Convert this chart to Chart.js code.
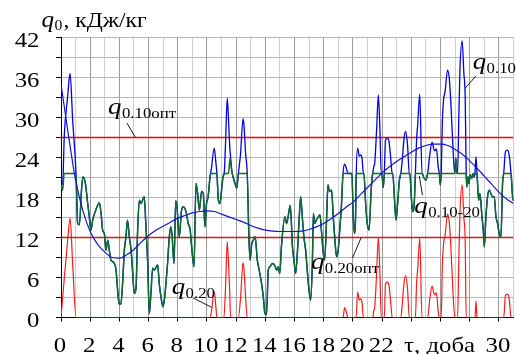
<!DOCTYPE html>
<html lang="uk">
<head>
<meta charset="UTF-8">
<title>q0</title>
<script src="https://cdn.jsdelivr.net/npm/chart.js"></script>
<style>
  body { margin: 0; background: #fff; }
</style>
</head>
<body>
<canvas id="grafik" width="516" height="354"></canvas>
<script>
// [доба, кДж/кг]
const q010 = [
  [0,19.9],[0.11,20.0],[0.23,27.5],[0.45,33.0],[0.62,36.6],[0.8,29.6],[1.03,21.6],
  [1.14,14.1],[1.26,13.9],[1.4,19.0],[1.5,21.1],[1.67,20.1],[1.83,17.1],[1.94,15.1],[2.05,13.1],[2.17,14.6],[2.35,15.9],[2.63,17.2],[2.75,15.5],[2.85,13.1],[2.97,12.6],[3.08,10.1],[3.2,11.6],[3.31,10.1],[3.42,8.6],[3.6,8.3],[3.77,7.1],[3.88,4.1],[3.98,2.1],[4.1,2.0],[4.22,5.1],[4.34,10.1],[4.45,12.1],[4.55,14.6],[4.68,12.1],[4.8,10.1],[4.9,7.1],[5.02,3.6],[5.14,4.4],[5.25,13.1],[5.37,17.6],[5.48,17.1],[5.7,18.1],[5.82,13.6],[5.94,8.1],[6.05,0.6],[6.16,3.6],[6.28,7.4],[6.39,7.1],[6.62,7.9],[6.73,5.1],[6.85,3.1],[6.98,1.6],[7.08,2.6],[7.19,5.1],[7.3,8.1],[7.42,12.1],[7.53,13.6],[7.62,12.0],[7.74,8.1],[7.86,17.5],[7.95,16.5],[8.1,12.1],[8.26,16.1],[8.38,16.6],[8.56,15.9],[8.72,14.1],[8.85,13.1],[8.95,10.6],[9.11,7.6],[9.25,20.1],[9.36,18.6],[9.48,16.1],[9.63,18.9],[9.75,18.6],[9.86,13.6],[9.97,17.1],[10.08,18.1],
  [10.21,21.1],[10.3,22.3],[10.5,25.4],[10.6,23.5],[10.68,21.6],[10.78,17.6],[10.89,17.1],[11.0,19.1],
  [11.1,21.1],[11.18,21.6],[11.27,26.0],[11.39,32.9],[11.47,30.0],[11.55,26.0],[11.62,24.0],[11.7,22.0],[11.8,21.0],[11.92,20.1],[12.04,19.4],
  [12.15,21.6],[12.3,24.5],[12.47,29.8],[12.53,29.0],[12.65,24.5],[12.76,21.6],
  [12.86,13.1],[12.95,8.6],[13.07,11.1],[13.18,11.6],[13.3,12.1],[13.45,8.6],[13.58,7.1],[13.74,5.1],[13.86,3.1],[13.97,0.6],[14.08,0.4],[14.2,7.1],[14.3,7.6],[14.5,8.1],[14.65,7.8],[14.77,7.1],[14.88,7.6],[14.99,6.6],[15.1,10.6],[15.34,15.1],[15.45,14.1],[15.56,15.1],[15.7,16.8],[15.78,14.5],[15.84,11.1],[15.96,8.6],[16.07,6.6],[16.19,9.6],[16.3,14.1],[16.42,18.1],[16.53,15.1],[16.64,12.1],[16.76,10.1],[16.87,7.1],[16.99,4.1],[17.1,2.6],[17.22,8.1],[17.29,15.6],[17.38,14.1],[17.49,14.6],[17.63,15.1],[17.74,15.4],[17.84,13.1],[17.97,9.6],[18.06,8.6],[18.2,15.1],[18.29,19.9],[18.4,18.9],[18.54,19.1],[18.65,15.1],[18.75,12.1],[18.88,9.1],[18.99,10.1],[19.11,13.6],[19.22,17.1],
  [19.32,21.6],[19.43,23.0],[19.55,22.4],[19.66,21.6],[19.93,21.6],[20.02,15.1],[20.11,12.6],[20.18,15.0],
  [20.22,21.0],[20.32,25.4],[20.44,24.2],[20.53,24.4],[20.62,23.9],[20.72,21.6],[20.75,21.6],[20.87,17.1],[20.98,14.1],[21.1,13.1],[21.25,19.1],[21.32,21.1],
  [21.36,21.6],[21.42,22.6],[21.49,23.1],[21.62,28.1],[21.74,33.4],[21.85,28.1],[21.94,21.6],[21.98,21.6],[22.08,19.5],
  [22.15,21.6],[22.23,26.6],[22.35,26.9],[22.47,26.4],[22.58,24.1],[22.69,21.6],[22.73,21.6],[22.84,18.0],[22.95,14.6],[23.06,17.1],[23.18,20.5],
  [23.28,21.6],[23.38,23.6],[23.49,26.6],[23.6,27.9],[23.74,25.9],[23.86,21.6],[23.9,21.6],[24.0,18.1],[24.09,15.9],[24.2,17.1],
  [24.28,21.6],[24.36,26.7],[24.43,28.7],[24.58,33.5],[24.73,21.6],[24.75,21.6],[24.85,21.0],[25.0,20.6],
  [25.12,21.6],[25.25,24.1],[25.42,26.3],[25.55,25.2],[25.62,25.0],[25.72,25.3],[25.84,22.6],[25.92,21.6],[25.98,19.9],
  [26.05,21.6],[26.12,29.0],[26.2,32.5],[26.32,34.0],[26.48,37.1],[26.6,35.9],[26.71,32.1],[26.87,24.7],[26.98,21.6],[27.05,23.9],[27.12,21.6],
  [27.17,21.6],[27.25,29.6],[27.33,37.1],[27.48,41.5],[27.6,36.6],[27.69,33.1],[27.76,21.6],
  [27.8,19.6],[27.88,21.1],[27.95,20.1],[28.04,21.4],[28.15,20.9],[28.24,21.6],[28.3,21.1],
  [28.36,21.6],[28.43,24.1],[28.5,21.6],
  [28.61,17.6],[28.7,18.6],[28.84,15.1],[28.93,13.1],[29.0,10.6],[29.11,15.1],[29.22,18.1],[29.34,19.1],[29.45,18.6],[29.57,18.1],[29.68,18.1],[29.8,15.1],[29.91,14.1],[30.02,12.6],[30.14,12.1],[30.25,20.1],
  [30.33,21.6],[30.45,24.9],[30.6,25.1],[30.72,24.1],[30.83,21.6],[30.94,18.1],[31.0,17.5]
];

const q1020 = [
  [0,19.9],[0.11,19.1],[0.22,21.6],[1.03,21.6],[1.14,14.1],[1.26,13.9],[1.4,19.0],[1.5,21.1],[1.67,20.1],[1.83,17.1],[1.94,15.1],[2.05,13.1],[2.17,14.6],[2.35,15.9],[2.63,17.2],[2.75,15.5],[2.85,13.1],[2.97,12.6],[3.08,10.1],[3.2,11.6],[3.31,10.1],[3.42,8.6],[3.6,8.3],[3.77,7.1],[3.88,4.1],[3.98,2.1],[4.1,2.0],[4.22,5.1],[4.34,10.1],[4.45,12.1],[4.55,14.6],[4.68,12.1],[4.8,10.1],[4.9,7.1],[5.02,3.6],[5.14,4.4],[5.25,13.1],[5.37,17.6],[5.48,17.1],[5.7,18.1],[5.82,13.6],[5.94,8.1],[6.05,0.6],[6.16,3.6],[6.28,7.4],[6.39,7.1],[6.62,7.9],[6.73,5.1],[6.85,3.1],[6.98,1.6],[7.08,2.6],[7.19,5.1],[7.3,8.1],[7.42,12.1],[7.53,13.6],[7.62,12.0],[7.74,8.1],[7.86,17.5],[7.95,16.5],[8.1,12.1],[8.26,16.1],[8.38,16.6],[8.56,15.9],[8.72,14.1],[8.85,13.1],[8.95,10.6],[9.11,7.6],[9.25,20.1],[9.36,18.6],[9.48,16.1],[9.63,18.9],[9.75,18.6],[9.86,13.6],[9.97,17.1],[10.08,18.1],[10.21,21.1],[10.3,21.6],[10.68,21.6],[10.78,17.6],[10.89,17.1],[11.0,19.1],[11.1,21.1],[11.18,21.6],[11.48,21.6],[11.58,23.9],[11.7,22.0],[11.8,21.0],[11.92,20.1],[12.04,19.4],[12.15,21.6],[12.76,21.6],[12.86,13.1],[12.95,8.6],[13.07,11.1],[13.18,11.6],[13.3,12.1],[13.45,8.6],[13.58,7.1],[13.74,5.1],[13.86,3.1],[13.97,0.6],[14.08,0.4],[14.2,7.1],[14.3,7.6],[14.5,8.1],[14.65,7.8],[14.77,7.1],[14.88,7.6],[14.99,6.6],[15.1,10.6],[15.34,15.1],[15.45,14.1],[15.56,15.1],[15.7,16.8],[15.78,14.5],[15.84,11.1],[15.96,8.6],[16.07,6.6],[16.19,9.6],[16.3,14.1],[16.42,18.1],[16.53,15.1],[16.64,12.1],[16.76,10.1],[16.87,7.1],[16.99,4.1],[17.1,2.6],[17.22,8.1],[17.29,15.6],[17.38,14.1],[17.49,14.6],[17.63,15.1],[17.74,15.4],[17.84,13.1],[17.97,9.6],[18.06,8.6],[18.2,15.1],[18.29,19.9],[18.4,18.9],[18.54,19.1],[18.65,15.1],[18.75,12.1],[18.88,9.1],[18.99,10.1],[19.11,13.6],[19.22,17.1],[19.32,21.6],[19.93,21.6],[20.02,15.1],[20.11,12.6],[20.18,15.0],[20.22,21.0],[20.28,21.6],[20.75,21.6],[20.87,17.1],[20.98,14.1],[21.1,13.1],[21.25,19.1],[21.32,21.1],[21.36,21.6],[21.98,21.6],[22.08,19.5],[22.15,21.6],[22.73,21.6],[22.84,18.0],[22.95,14.6],[23.06,17.1],[23.18,20.5],[23.28,21.6],[23.9,21.6],[24.0,18.1],[24.09,15.9],[24.2,17.1],[24.28,21.6],[24.75,21.6],[24.85,21.0],[25.0,20.6],[25.12,21.6],[25.92,21.6],[25.98,19.9],[26.05,21.6],[26.98,21.6],[27.05,23.9],[27.12,21.6],[27.76,21.6],[27.8,19.6],[27.88,21.1],[27.95,20.1],[28.04,21.4],[28.15,20.9],[28.24,21.6],[28.3,21.1],[28.36,21.6],[28.5,21.6],[28.61,17.6],[28.7,18.6],[28.84,15.1],[28.93,13.1],[29.0,10.6],[29.11,15.1],[29.22,18.1],[29.34,19.1],[29.45,18.6],[29.57,18.1],[29.68,18.1],[29.8,15.1],[29.91,14.1],[30.02,12.6],[30.14,12.1],[30.25,20.1],[30.33,21.6],[30.83,21.6],[30.94,18.1],[31.0,17.5]
];

const q020 = [
  [0,0],[0.23,6.0],[0.45,11.4],[0.62,14.9],[0.8,8.0],[1.03,0],
  [10.21,0],[10.3,0.8],[10.5,3.9],[10.6,1.9],[10.68,0],
  [11.16,0],[11.27,4.4],[11.39,11.4],[11.47,8.4],[11.55,4.4],[11.62,0],
  [12.15,0],[12.3,2.9],[12.47,8.2],[12.53,7.4],[12.65,2.9],[12.76,0],
  [19.32,0],[19.43,1.5],[19.55,0.8],[19.66,0],
  [20.22,0],[20.32,3.8],[20.44,2.6],[20.53,2.8],[20.62,2.3],[20.72,0],
  [21.36,0],[21.42,1.0],[21.49,1.5],[21.62,6.5],[21.74,12.0],[21.85,6.5],[21.94,0],
  [22.15,0],[22.23,5.0],[22.35,5.3],[22.47,4.8],[22.58,2.5],[22.69,0],
  [23.28,0],[23.38,2.0],[23.49,5.0],[23.6,6.3],[23.74,4.3],[23.86,0],
  [24.28,0],[24.36,5.1],[24.43,7.1],[24.58,11.9],[24.73,0],
  [25.12,0],[25.25,2.5],[25.42,4.7],[25.55,3.6],[25.62,3.4],[25.72,3.7],[25.84,1.0],[25.92,0],
  [26.05,0],[26.12,7.4],[26.2,10.9],[26.32,12.4],[26.48,15.5],[26.6,14.3],[26.71,10.5],[26.87,3.1],[26.98,0],
  [27.17,0],[27.25,8.0],[27.33,15.5],[27.48,19.9],[27.6,15.0],[27.69,11.5],[27.76,0],
  [28.36,0],[28.43,2.5],[28.5,0],
  [30.33,0],[30.45,3.3],[30.6,3.5],[30.72,2.5],[30.83,0],[31,0]
];

// згладжена крива q0.10
const trend = [
  [0,35.0],[0.5,27.5],[1,20.6],[1.5,16.0],[2,12.9],[2.5,11.0],[3,9.8],[3.5,9.0],[4,8.9],[4.5,9.4],[5,10.2],[5.5,11.3],[6,12.3],[6.5,13.1],[7,13.7],[7.5,14.3],[8,14.9],[8.5,15.3],[9,15.7],[9.5,15.9],[10,16.0],[10.5,15.9],[11,15.5],[11.5,15.1],[12,14.7],[12.5,14.3],[13,13.8],[13.5,13.4],[14,13.1],[14.5,12.95],[15,12.9],[15.5,12.9],[16,12.9],[16.5,12.95],[17,13.2],[17.5,13.6],[18,14.1],[18.5,14.8],[19,15.6],[19.5,16.5],[20,17.3],[20.5,18.4],[21,19.5],[21.5,20.6],[22,21.7],[22.5,22.6],[23,23.4],[23.5,24.1],[24,24.8],[24.5,25.4],[25,25.8],[25.5,26.0],[26,26.0],[26.5,25.8],[27,25.2],[27.5,24.5],[28,23.5],[28.5,22.4],[29,21.2],[29.5,20.0],[30,18.8],[30.5,17.8],[31,17.1]
];

const q010opt = 27;
const q020opt = 12;

const mitkyX = ['0','2','4','6','8','10','12','14','16','18','20','22','','τ, доба','','30'];
const mitkyY = ['0','6','12','18','24','30','36','42'];

function tochky(arr) {
  return arr.map(p => ({ x: p[0], y: p[1] }));
}

const shryft = '"Liberation Serif", "Times New Roman", serif';

// підписи кривих: [індекс, x, y, виноска x1, y1, x2, y2]
const napysy = [
  ['0.10опт', 3.22, 30.6, 4.52, 29.17, 5.10, 27.0],
  ['0.10', 28.2, 37.3, 28.42, 36.22, 27.69, 34.38],
  ['0.10-20', 24.2, 15.7, 24.55, 21.22, 24.76, 18.37],
  ['0.20опт', 17.12, 7.23, 20.55, 11.92, 19.97, 8.92],
  ['0.20', 7.58, 3.52, 9.06, 2.92, 10.32, 1.53]
];

// текст трохи розтягнутий по горизонталі, як на оригіналі
function tekst(ctx, s, x, y, font, align, rozt) {
  ctx.save();
  ctx.font = font;
  ctx.textAlign = align;
  ctx.translate(x, y);
  ctx.scale(rozt, 1);
  ctx.fillText(s, 0, 0);
  const w = ctx.measureText(s).width * rozt;
  ctx.restore();
  return w;
}

function malujQ(ctx, x, y, sub, subSize, dy, rozt) {
  const w = tekst(ctx, 'q', x, y, 'italic 24px ' + shryft, 'left', rozt);
  const w2 = tekst(ctx, sub, x + w + 0.5, y + dy, subSize + 'px ' + shryft, 'left', rozt);
  return w + 0.5 + w2;
}

const pidpysy = {
  id: 'pidpysy',
  afterDraw(chart) {
    const ctx = chart.ctx;
    const sx = chart.scales.x, sy = chart.scales.y;
    const area = chart.chartArea;
    ctx.save();
    ctx.fillStyle = '#000';
    ctx.strokeStyle = '#000';
    ctx.lineWidth = 0.9;
    ctx.textBaseline = 'alphabetic';

    // мітки осей
    mitkyX.forEach((s, i) => {
      if (s) tekst(ctx, s, sx.getPixelForValue(i * 2) - 1, area.bottom + 34, '21px ' + shryft, 'center', 1.18);
    });
    mitkyY.forEach((s, i) => {
      tekst(ctx, s, area.left - 21.5, sy.getPixelForValue(i * 6) + 9.2, '21px ' + shryft, 'right', 1.18);
    });

    // назва осі
    const ax = area.left - 19.5;
    const ay = area.top - 10.5;
    const w = malujQ(ctx, ax, ay, '0', 15, 3, 1.05);
    tekst(ctx, ', кДж/кг', ax + w + 1, ay, '22px ' + shryft, 'left', 1.07);

    napysy.forEach(n => {
      malujQ(ctx, sx.getPixelForValue(n[1]), sy.getPixelForValue(n[2]), n[0], 15, 4, 1.12);
      ctx.beginPath();
      ctx.moveTo(sx.getPixelForValue(n[3]), sy.getPixelForValue(n[4]));
      ctx.lineTo(sx.getPixelForValue(n[5]), sy.getPixelForValue(n[6]));
      ctx.stroke();
    });
    ctx.restore();
  }
};

const ctx = document.getElementById('grafik').getContext('2d');

new Chart(ctx, {
  type: 'line',
  data: {
    datasets: [
      {
        data: tochky(trend),
        borderColor: '#1414d2',
        borderWidth: 1.2,
        pointRadius: 0,
        cubicInterpolationMode: 'monotone',
        order: 1
      },
      {
        data: tochky(q020),
        borderColor: '#ff1a1a',
        borderWidth: 1.2,
        pointRadius: 0,
        cubicInterpolationMode: 'monotone',
        order: 2
      },
      {
        data: tochky(q1020),
        borderColor: '#0d6a30',
        borderWidth: 1.5,
        pointRadius: 0,
        cubicInterpolationMode: 'monotone',
        order: 3
      },
      {
        data: tochky(q010),
        borderColor: '#0000e0',
        borderWidth: 1.3,
        pointRadius: 0,
        cubicInterpolationMode: 'monotone',
        order: 4
      },
      {
        data: [{ x: 0, y: q010opt }, { x: 31, y: q010opt }],
        borderColor: '#ff0000',
        borderWidth: 1.5,
        pointRadius: 0,
        order: 5
      },
      {
        data: [{ x: 0, y: q020opt }, { x: 31, y: q020opt }],
        borderColor: '#cc2000',
        borderWidth: 1.5,
        pointRadius: 0,
        order: 6
      }
    ]
  },
  options: {
    responsive: false,
    animation: false,
    devicePixelRatio: 1,
    layout: { padding: { top: 37.5, right: 2.5, left: 0, bottom: 0 } },
    plugins: {
      legend: { display: false },
      tooltip: { enabled: false }
    },
    scales: {
      x: {
        type: 'linear',
        min: 0,
        max: 31,
        ticks: { display: false, stepSize: 1, autoSkip: false, maxRotation: 0 },
        grid: {
          color: c => (c.tick && c.tick.value % 2 === 0 ? '#9a9a9a' : '#d0d0d0'),
          tickColor: c => (c.tick && c.tick.value % 2 === 0 ? '#000' : 'rgba(0,0,0,0)'),
          tickLength: 4
        },
        border: { color: '#000', width: 1 },
        afterFit: s => { s.height = 36.5; }
      },
      y: {
        min: 0,
        max: 42,
        ticks: { display: false, stepSize: 3 },
        grid: {
          // під лініями q опт сітки не видно
          color: c => (c.tick && (c.tick.value === q010opt || c.tick.value === q020opt) ? 'rgba(0,0,0,0)' : '#b4b4b4'),
          tickColor: '#000',
          tickLength: 5
        },
        border: { color: '#000', width: 1 },
        afterFit: s => { s.width = 61; }
      }
    }
  },
  plugins: [pidpysy]
});
</script>
</body>
</html>
